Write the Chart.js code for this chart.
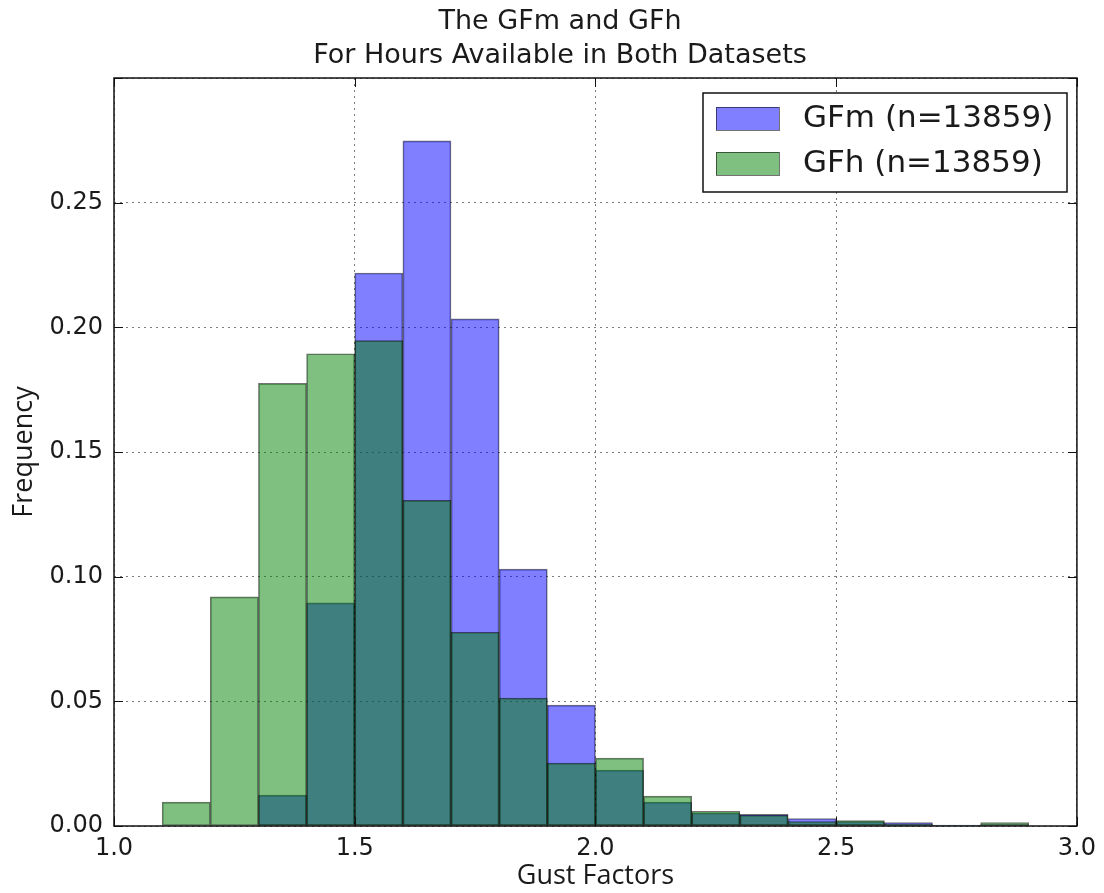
<!DOCTYPE html>
<html>
<head>
<meta charset="utf-8">
<script src="https://cdn.jsdelivr.net/npm/chart.js@4.4.0/dist/chart.umd.min.js"></script>
<style>
  html, body { margin: 0; padding: 0; background: #fff; }
  #wrap { width: 1104px; height: 893px; }
</style>
</head>
<body>
<div id="wrap"><canvas id="gustChart" width="1104" height="893"></canvas></div>
<script>
// histogram bins (width 0.1), centres
const binCenters = [1.15, 1.25, 1.35, 1.45, 1.55, 1.65, 1.75, 1.85, 1.95,
                    2.05, 2.15, 2.25, 2.35, 2.45, 2.55, 2.65, 2.75, 2.85];
const gfmFreq = [0, 0, 0.0124, 0.0895, 0.2218, 0.2748, 0.2034, 0.1030, 0.0485,
                 0.0224, 0.0096, 0.0052, 0.0047, 0.0030, 0.0018, 0.0014, 0.0003, 0.0006];
const gfhFreq = [0.0096, 0.0919, 0.1775, 0.1894, 0.1947, 0.1306, 0.0777, 0.0513, 0.0252,
                 0.0272, 0.0120, 0.0059, 0.0043, 0.0018, 0.0022, 0.0008, 0.0004, 0.0014];
const seriesLabels = ['GFm (n=13859)', 'GFh (n=13859)'];
const xTicks = [1.0, 1.5, 2.0, 2.5, 3.0];
const yTicks = [0, 0.05, 0.10, 0.15, 0.20, 0.25, 0.30];
const titleLines = ['The GFm and GFh', 'For Hours Available in Both Datasets'];

const blueFill = 'rgba(0, 0, 255, 0.5)';
const greenFill = 'rgba(0, 128, 0, 0.5)';
const edge = 'rgba(0, 0, 0, 0.55)';
const txt = '#1a1a1a';
const gridc = 'rgba(110, 110, 110, 0.9)';

// title, frame, inward ticks and boxed legend, matplotlib style
const mplDecor = {
  id: 'mplDecor',
  afterDraw(chart) {
    const c = chart.ctx;
    const a = chart.chartArea;
    const xs = chart.scales.x, ys = chart.scales.y;
    c.save();

    c.fillStyle = txt;
    c.font = '27px "DejaVu Sans"';
    c.textAlign = 'center';
    c.textBaseline = 'middle';
    c.fillText(titleLines[0], 560, 22);
    c.fillText(titleLines[1], 560, 56);

    c.strokeStyle = '#111';
    c.lineWidth = 1.5;
    c.strokeRect(a.left, a.top, a.right - a.left, a.bottom - a.top);

    c.lineWidth = 1;
    c.beginPath();
    xTicks.forEach(v => {
      const px = Math.round(xs.getPixelForValue(v)) + 0.5;
      c.moveTo(px, a.bottom); c.lineTo(px, a.bottom - 9);
      c.moveTo(px, a.top); c.lineTo(px, a.top + 9);
    });
    yTicks.forEach(v => {
      const py = Math.round(ys.getPixelForValue(v)) + 0.5;
      c.moveTo(a.left, py); c.lineTo(a.left + 9, py);
      c.moveTo(a.right, py); c.lineTo(a.right - 9, py);
    });
    c.stroke();

    // legend
    const lx = 703, ly = 93, lw = 364, lh = 99;
    c.fillStyle = '#fff';
    c.fillRect(lx, ly, lw, lh);
    c.strokeStyle = '#111';
    c.lineWidth = 1.5;
    c.strokeRect(lx, ly, lw, lh);
    c.font = '31px "DejaVu Sans"';
    c.textAlign = 'left';
    chart.data.datasets.forEach((ds, i) => {
      const y0 = 107 + i * 45;
      c.fillStyle = ds.backgroundColor;
      c.fillRect(716, y0, 63, 23);
      c.strokeStyle = edge;
      c.lineWidth = 1;
      c.strokeRect(716.5, y0 + 0.5, 63, 23);
      c.fillStyle = txt;
      c.fillText(ds.label, 803, y0 + 12);
    });
    c.restore();
  }
};

const toPoints = vals => binCenters.map((x, i) => ({ x: x, y: vals[i] }));

new Chart(document.getElementById('gustChart'), {
  type: 'bar',
  data: {
    datasets: [{
      label: seriesLabels[0],
      data: toPoints(gfmFreq),
      backgroundColor: blueFill,
      borderColor: edge,
      borderWidth: 1,
      borderSkipped: false,
      order: 2
    }, {
      label: seriesLabels[1],
      data: toPoints(gfhFreq),
      backgroundColor: greenFill,
      borderColor: edge,
      borderWidth: 1,
      borderSkipped: false,
      order: 1
    }]
  },
  options: {
    responsive: false,
    maintainAspectRatio: false,
    animation: false,
    grouped: false,
    barPercentage: 1,
    categoryPercentage: 1,
    layout: { padding: { top: 78, right: 24, left: 0, bottom: 0 } },
    scales: {
      x: {
        type: 'linear',
        min: 1.0,
        max: 3.0,
        offset: false,
        afterFit: s => { s.height = 67; },
        grid: { offset: false, color: gridc, drawTicks: false },
        border: { display: false, dash: [2, 4] },
        ticks: {
          stepSize: 0.5,
          padding: 8,
          color: txt,
          font: { family: 'DejaVu Sans', size: 24 },
          callback: v => Number(v).toFixed(1)
        },
        title: {
          display: true,
          text: 'Gust Factors',
          color: txt,
          font: { family: 'Open Sans', size: 27 },
          padding: { top: 0, bottom: 0 }
        }
      },
      y: {
        min: 0,
        max: 0.30,
        afterFit: s => { s.width = 114; },
        grid: { color: gridc, drawTicks: false },
        border: { display: false, dash: [2, 4] },
        ticks: {
          stepSize: 0.05,
          padding: 11,
          color: txt,
          font: { family: 'DejaVu Sans', size: 24 },
          callback: v => (v > 0.299 ? '' : Number(v).toFixed(2))
        },
        title: {
          display: true,
          text: 'Frequency',
          color: txt,
          font: { family: 'Open Sans', size: 27 },
          padding: { top: 8, bottom: 0 }
        }
      }
    },
    plugins: {
      legend: { display: false },
      tooltip: { enabled: false }
    }
  },
  plugins: [mplDecor]
});
</script>
</body>
</html>
